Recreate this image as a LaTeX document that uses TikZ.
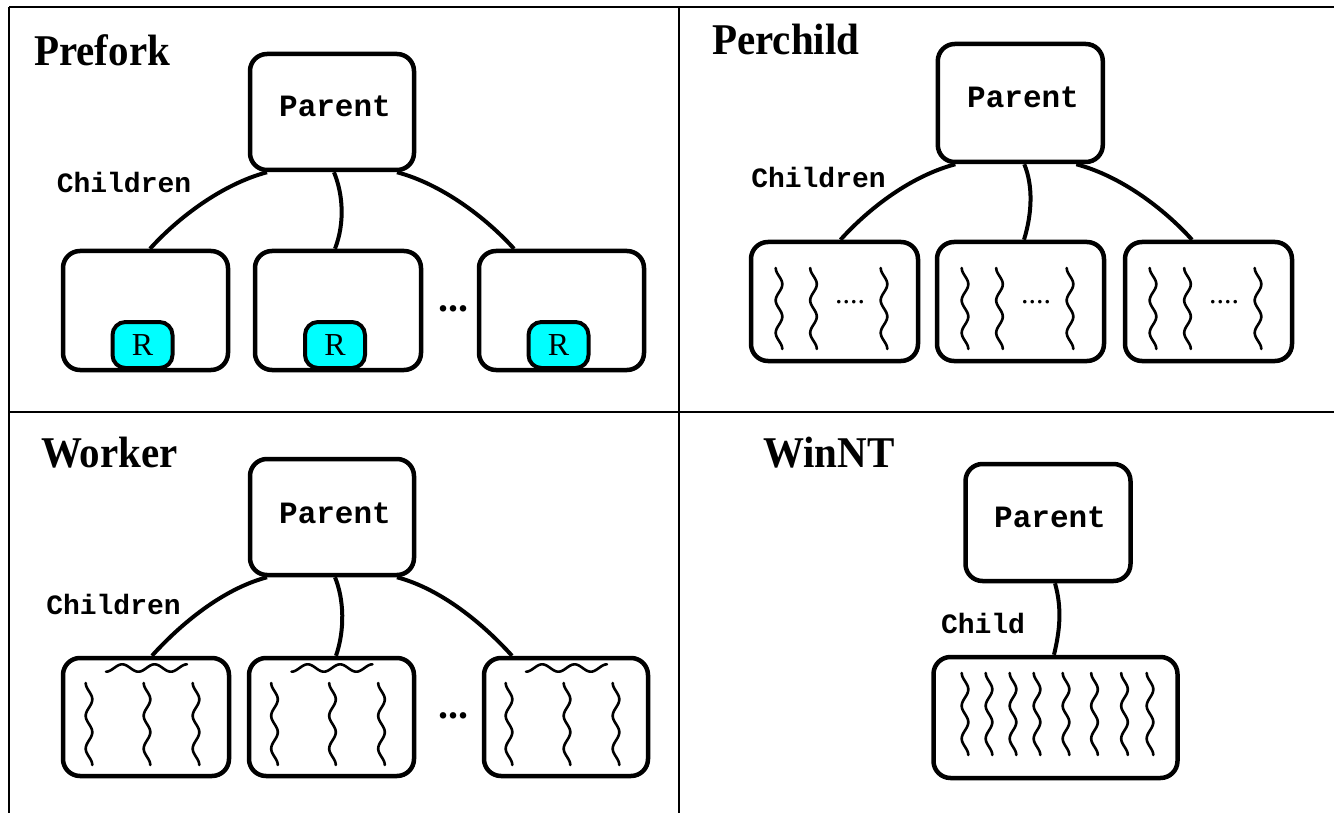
\documentclass[tikz,border=0pt]{standalone}
\usepackage{fontspec}
\usepackage{graphicx}
\setmainfont{Liberation Serif}
\setmonofont{Liberation Mono}
\definecolor{rcyan}{RGB}{0,255,255}
\tikzset{
  box/.style={draw, line width=4.5pt, rounded corners=17pt, inner sep=0pt},
  rbox/.style={draw, fill=rcyan, line width=4pt, rounded corners=13pt, inner sep=0pt,
    minimum width=60pt, minimum height=46pt, font=\fontsize{32}{32}\selectfont},
  link/.style={line width=4pt},
  wave/.style={line width=2.6pt, line cap=round},
  frame/.style={line width=2pt},
  title/.style={inner sep=0pt, anchor=base west, font=\fontsize{41}{41}\selectfont\bfseries},
  ptext/.style={inner sep=0pt, anchor=base, font=\fontsize{31}{31}\selectfont\ttfamily\bfseries},
  ctext/.style={inner sep=0pt, anchor=base, font=\fontsize{28}{28}\selectfont\ttfamily\bfseries},
  bigdots/.style={inner sep=0pt, anchor=base, font=\fontsize{40}{40}\selectfont\bfseries},
  smalldots/.style={inner sep=0pt, anchor=base, font=\fontsize{30}{30}\selectfont},
}
\newcommand\vwave[3]{\draw[wave] plot[domain=0:1,samples=50,smooth,variable=\t] ({#1-3.3*cos(900*\t)},{#2+(#3-(#2))*\t});}
\newcommand\hwave[3]{\draw[wave] plot[domain=0:1,samples=50,smooth,variable=\t] ({#1+(#2-(#1))*\t},{#3+3.7*cos(900*\t)});}
\newcommand\pcinner[2]{%
  \vwave{#1-55.5}{#2-33.5}{#2+47.5}
  \vwave{#1-21}{#2-33.5}{#2+47.5}
  \vwave{#1+49.5}{#2-33.5}{#2+47.5}
  \node[smalldots] at ({#1+15.5},{#2+2.5}) {....};}
\newcommand\wkinner[2]{%
  \hwave{#1-40}{#1+41}{#2-49}
  \vwave{#1-57}{#2-34}{#2+48}
  \vwave{#1+1}{#2-34}{#2+48}
  \vwave{#1+50}{#2-34}{#2+48}}
\begin{document}
\begin{tikzpicture}[x=1pt,y=-1pt]
\useasboundingbox (0,0) rectangle (1334,813);
% frame
\draw[frame] (9,7) -- (1334,7);
\draw[frame] (9,7) -- (9,813);
\draw[frame] (678.5,7) -- (678.5,813);
\draw[frame] (9,412) -- (1334,412);

% ---------------- Prefork ----------------
\node[title] (tA) at (34,66) {\scalebox{1}[1.07]{Prefork}};
\node[box, minimum width=164pt, minimum height=116pt] (pA) at (332,112) {};
\node[ptext] (pAt) at (335,117) {Parent};
\node[ctext] (chA) at (124,193) {Children};
\node[box, minimum width=165pt, minimum height=119pt] (cA1) at (145.5,310.5) {};
\node[box, minimum width=166pt, minimum height=119pt] (cA2) at (338,310.5) {};
\node[box, minimum width=165pt, minimum height=119pt] (cA3) at (561.5,310.5) {};
\node[rbox] (rA1) at (142.5,345) {R};
\node[rbox] (rA2) at (335,345) {R};
\node[rbox] (rA3) at (558.5,345) {R};
\node[bigdots] (dA) at (453,311) {...};
\draw[link] ([xshift=-65pt]pA.south) .. controls +(-45,12) and +(28,-31) .. ([xshift=4.5pt]cA1.north);
\draw[link] ([xshift=2pt]pA.south) .. controls +(9,22) and +(10,-26) .. ([xshift=-3pt]cA2.north);
\draw[link] ([xshift=65pt]pA.south) .. controls +(45,12) and +(-28,-31) .. ([xshift=-47.5pt]cA3.north);

% ---------------- Perchild ----------------
\node[title] (tB) at (712,55) {\scalebox{1}[1.07]{Perchild}};
\node[box, minimum width=165pt, minimum height=118pt] (pB) at (1020.3,103) {};
\node[ptext] (pBt) at (1023,108) {Parent};
\node[ctext] (chB) at (818.5,188) {Children};
\node[box, minimum width=167pt, minimum height=119pt] (cB1) at (834.5,301.5) {};
\node[box, minimum width=167pt, minimum height=119pt] (cB2) at (1020.5,301.5) {};
\node[box, minimum width=167pt, minimum height=119pt] (cB3) at (1208.5,301.5) {};
\pcinner{834.5}{301.5}
\pcinner{1020.5}{301.5}
\pcinner{1208.5}{301.5}
\draw[link] ([xshift=-65pt]pB.south) .. controls +(-45,12) and +(28,-31) .. ([xshift=6pt]cB1.north);
\draw[link] ([xshift=4pt]pB.south) .. controls +(9,22) and +(8,-26) .. ([xshift=3.5pt]cB2.north);
\draw[link] ([xshift=56pt]pB.south) .. controls +(45,12) and +(-28,-31) .. ([xshift=-16.5pt]cB3.north);

% ---------------- Worker ----------------
\node[title] (tC) at (41,467) {\scalebox{1}[1.07]{Worker}};
\node[box, minimum width=164pt, minimum height=116pt] (pC) at (332,517) {};
\node[ptext] (pCt) at (335,523) {Parent};
\node[ctext] (chC) at (113.5,614) {Children};
\node[box, minimum width=166pt, minimum height=118pt] (cC1) at (146,717) {};
\node[box, minimum width=165pt, minimum height=118pt] (cC2) at (331.5,717) {};
\node[box, minimum width=164pt, minimum height=118pt] (cC3) at (566,717) {};
\wkinner{146}{717}
\wkinner{331.5}{717}
\wkinner{566}{717}
\node[bigdots] (dC) at (453,718) {...};
\draw[link] ([xshift=-65pt]pC.south) .. controls +(-45,12) and +(28,-31) .. ([xshift=6pt]cC1.north);
\draw[link] ([xshift=3pt]pC.south) .. controls +(9,22) and +(9,-26) .. ([xshift=4.5pt]cC2.north);
\draw[link] ([xshift=65pt]pC.south) .. controls +(45,12) and +(-28,-31) .. ([xshift=-54pt]cC3.north);

% ---------------- WinNT ----------------
\node[title] (tD) at (763,467) {\scalebox{1}[1.07]{WinNT}};
\node[box, minimum width=165pt, minimum height=117pt] (pD) at (1048,522.5) {};
\node[ptext] (pDt) at (1050,527) {Parent};
\node[ctext] (chD) at (983,633) {Child};
\node[box, minimum width=244pt, minimum height=121pt] (cD) at (1055.5,717.5) {};
\foreach \wx in {965,989,1013,1037,1066,1094.5,1124.5,1150}{\vwave{\wx}{673}{755}}
\draw[link] ([xshift=7pt]pD.south) .. controls +(7,25) and +(6,-25) .. ([xshift=-1.5pt]cD.north);
\end{tikzpicture}
\end{document}
